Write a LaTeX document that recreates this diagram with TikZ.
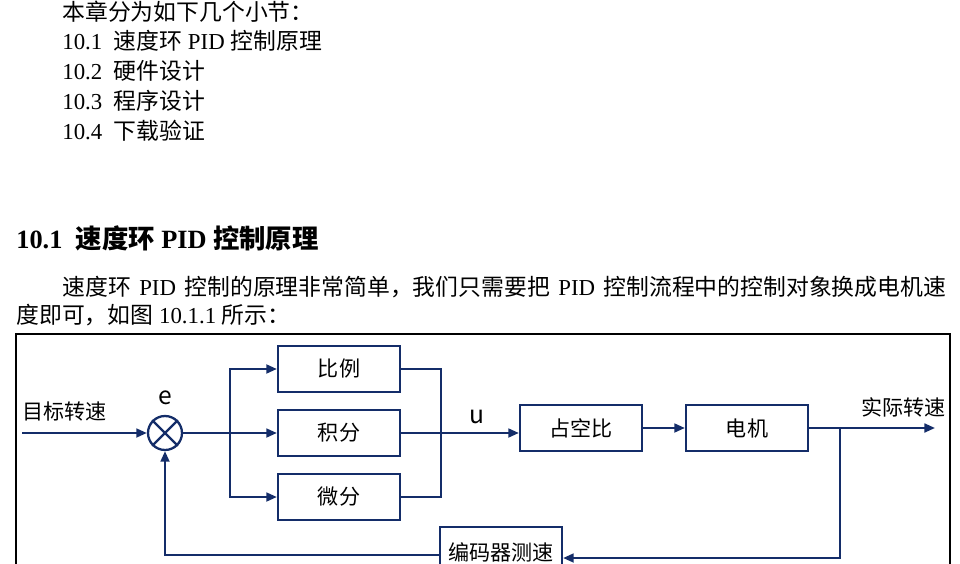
\documentclass[tikz,border=0pt]{standalone}
\usepackage{fontspec}
\setmainfont{Liberation Serif}
\newfontfamily\cjk{Noto Sans CJK SC}
\usetikzlibrary{arrows.meta,positioning}
\definecolor{navy}{RGB}{20,45,105}
\begin{document}
\begin{tikzpicture}[
    x=0.02cm, y=-0.02cm,
    txt/.style={anchor=base west,inner sep=0pt,font=\fontsize{13}{15}\selectfont},
    blk/.style={draw=navy,line width=1.3pt,minimum width=2.44cm,minimum height=0.92cm,font=\cjk\fontsize{12}{14}\selectfont},
    lbl/.style={inner sep=0pt,font=\cjk\fontsize{12}{14}\selectfont},
    link/.style={navy,line width=1.3pt},
    flow/.style={link,-{Triangle[length=6pt,width=5pt]}}
]
\useasboundingbox[clip] (0,0) rectangle (960,564);
\fill[white] (0,0) rectangle (960,564);
% text above the figure
\node[txt] (t0) at (62,21) {{\cjk 本章分为如下几个小节：}};
\node[txt] (t1) at (62,50) {10.1\ \ {\cjk 速度环} PID {\cjk 控制原理}};
\node[txt] (t2) at (62,80) {10.2\ \ {\cjk 硬件设计}};
\node[txt] (t3) at (62,110) {10.3\ \ {\cjk 程序设计}};
\node[txt] (t4) at (62,140) {10.4\ \ {\cjk 下载验证}};
\node[txt,font=\bfseries\fontsize{15}{17}\selectfont] (hd) at (16,249) {10.1\ \ {\cjk\bfseries 速度环} PID {\cjk\bfseries 控制原理}};
\node[txt] (p1) at (62,296) {\makebox[17.68cm][s]{{\cjk 速度环} PID {\cjk 控制的原理非常简单，我们只需要把} PID {\cjk 控制流程中的控制对象换成电机速}}};
\node[txt] (p2) at (16,323) {{\cjk 度即可，如图} 10.1.1 {\cjk 所示：}};
% frame
\draw[line width=0.8pt] (16,580) -- (16,334) -- (950,334) -- (950,580);
% blocks
\node[blk] (P) at (339,369) {比例};
\node[blk] (I) at (339,433) {积分};
\node[blk] (D) at (339,497) {微分};
\node[blk] (duty) at (581,428) {占空比};
\node[blk] (motor) at (747,428) {电机};
\node[blk,minimum height=1cm] (enc) at (501,552) {编码器测速};
\node[draw=navy,line width=1.3pt,circle,minimum size=0.68cm,inner sep=0pt] (sum) at (165,433) {};
\draw[link] (sum.45) -- (sum.225) (sum.135) -- (sum.315);
% labels
\node[lbl,anchor=base west] (tgt) at (22,419) {目标转速};
\node[lbl,font=\cjk\fontsize{14}{16}\selectfont] (e) at (165,398) {e};
\node[lbl,font=\cjk\fontsize{14}{16}\selectfont] (u) at (477,417) {u};
\node[lbl,anchor=base east] (act) at (946,415) {实际转速};
\coordinate (in) at (22,433);
\coordinate (br) at (230,433);
\coordinate (mg) at (441,433);
\coordinate (out) at (935,428);
\coordinate (tap) at (840,428);
% connectors
\draw[flow] (in) -- (sum);
\draw[flow] (sum) -- (I);
\draw[flow] (br) |- (P);
\draw[flow] (br) |- (D);
\draw[link] (P) -| (mg);
\draw[link] (D) -| (mg);
\draw[flow] (I.east) -- (I.east -| duty.west);
\draw[flow] (duty) -- (motor);
\draw[flow] (motor) -- (out);
\draw[flow] (tap) |- (enc.east |- 0,558);
\draw[flow] (enc.west |- 0,555) -| (sum);
\end{tikzpicture}
\end{document}
